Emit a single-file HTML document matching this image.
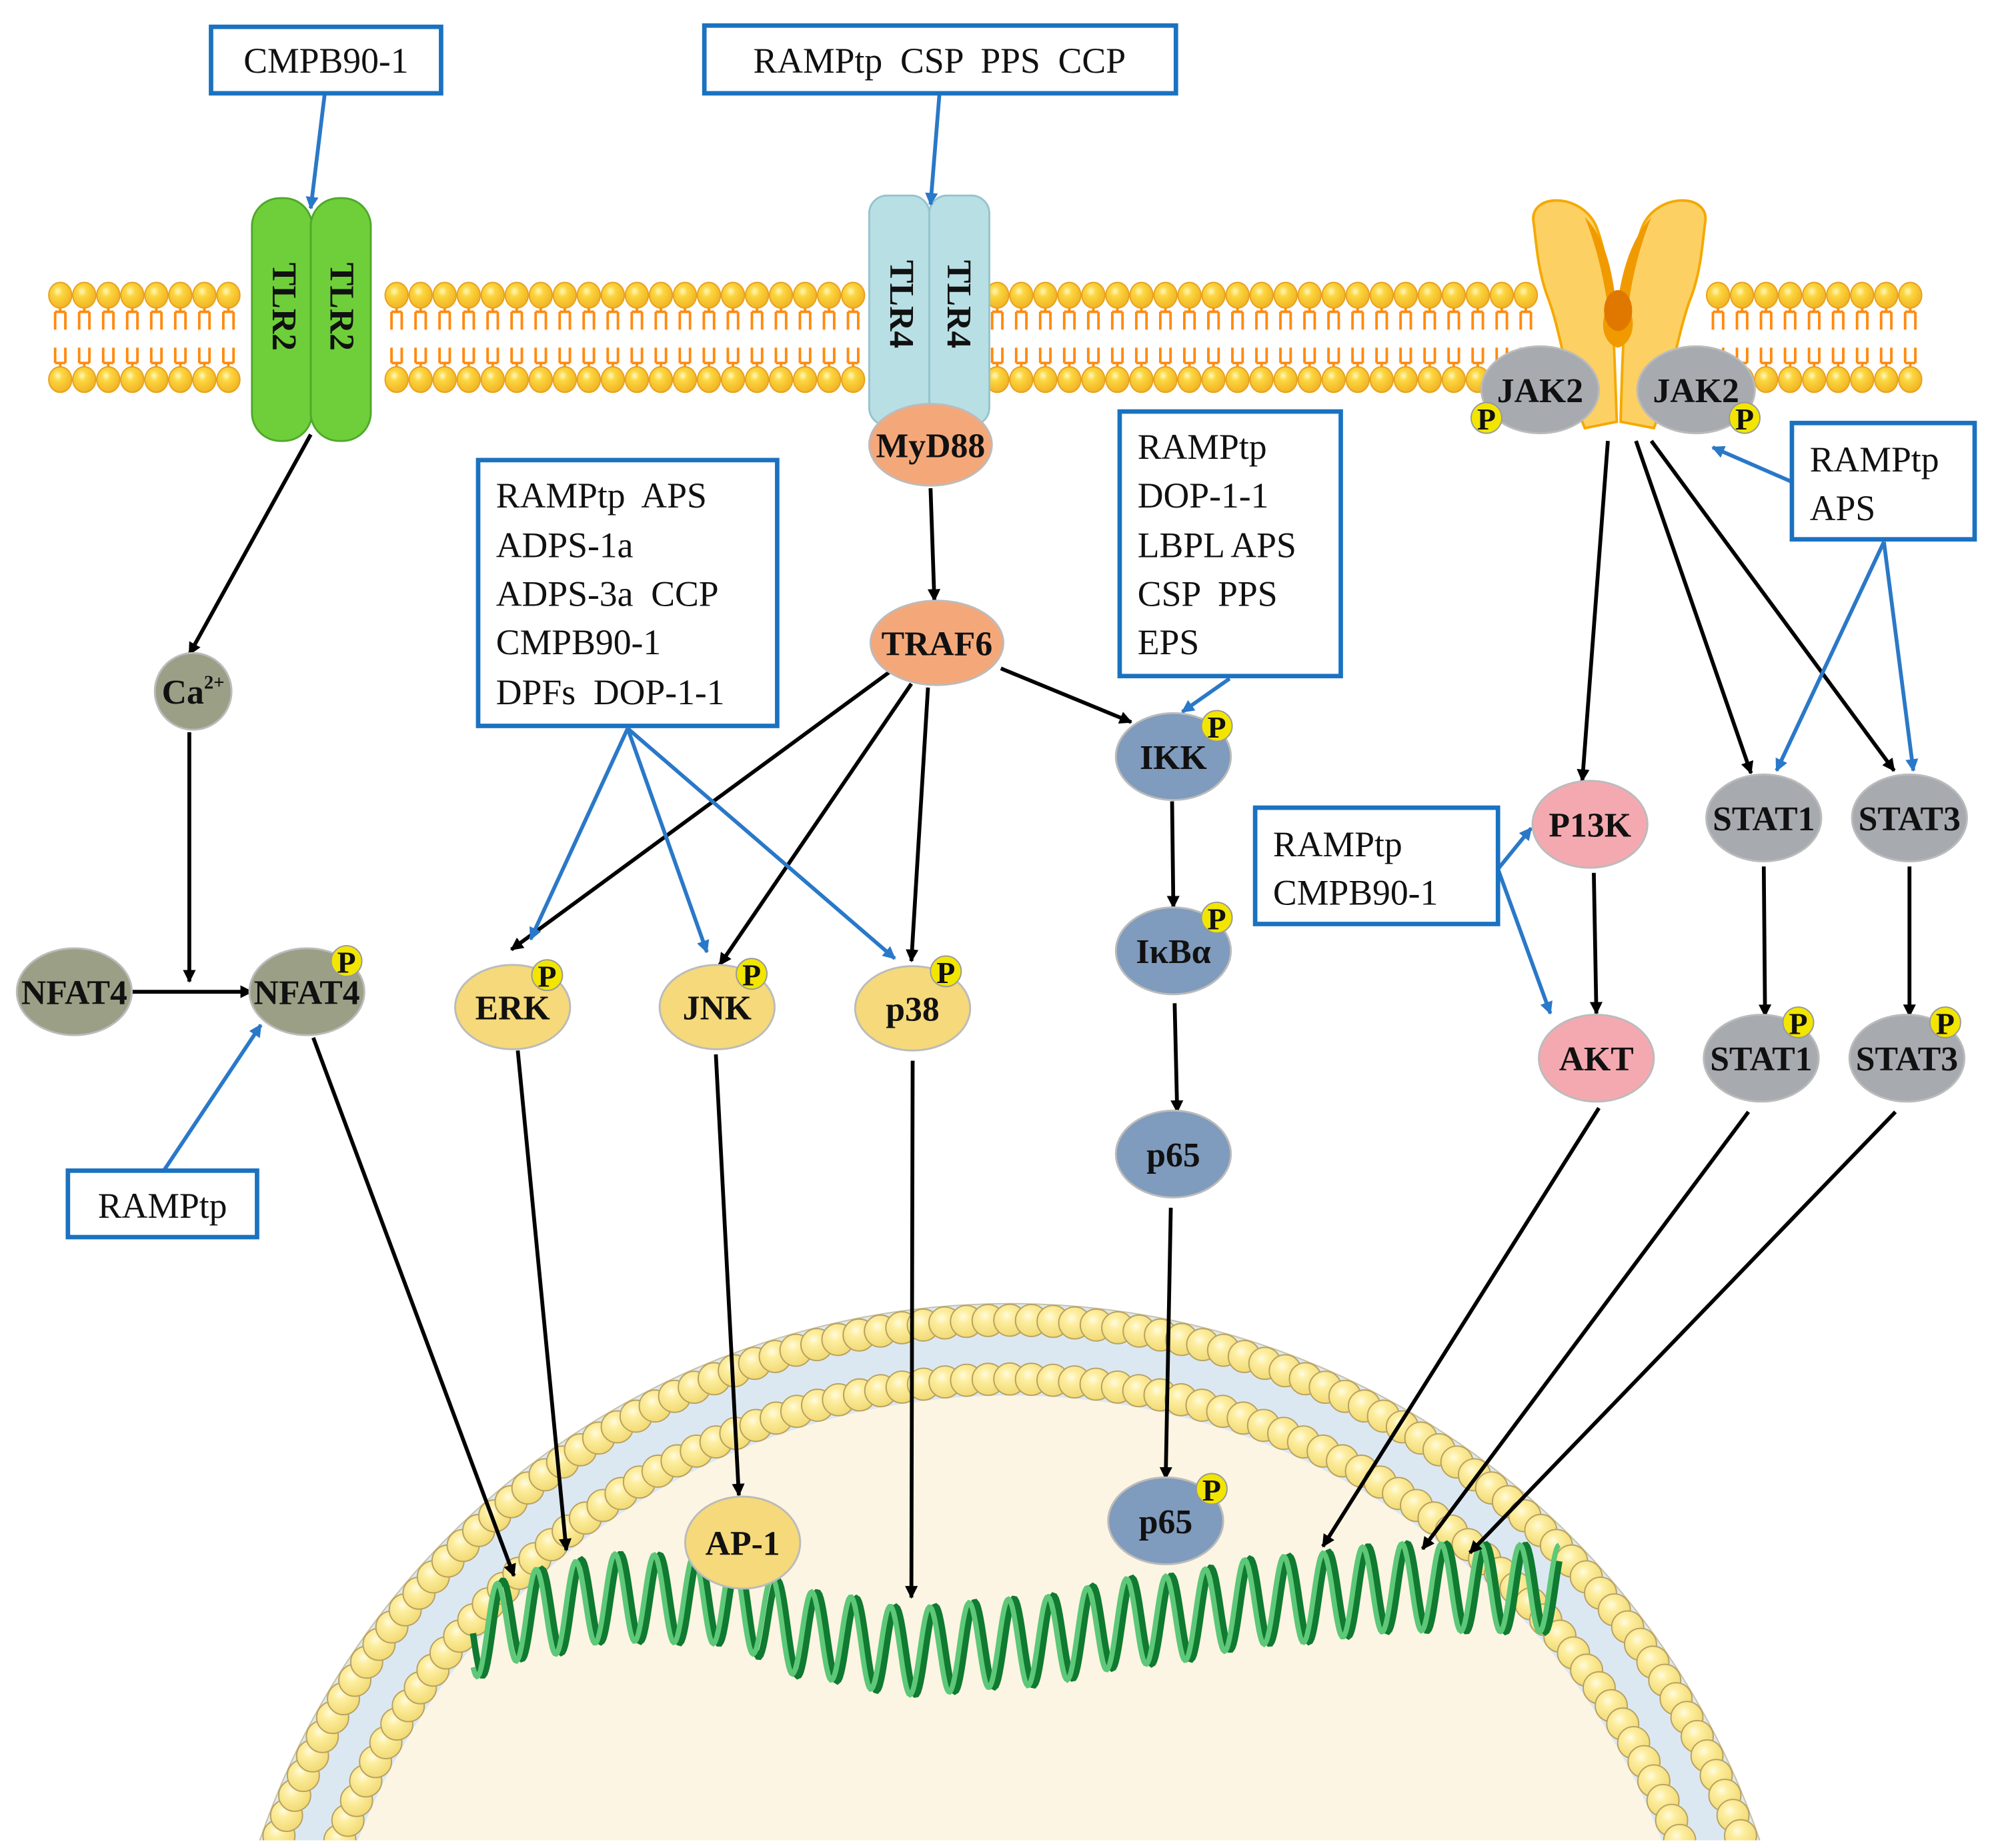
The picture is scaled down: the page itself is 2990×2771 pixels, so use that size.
<!DOCTYPE html>
<html><head><meta charset="utf-8">
<style>
html,body{margin:0;padding:0;background:#fff;overflow:hidden;width:2990px;height:2771px;position:relative;}
svg{display:block;position:absolute;left:0;top:0;}
text{font-family:"Liberation Serif",serif;}
.lbl{font-weight:bold;font-size:27px;text-anchor:middle;dominant-baseline:central;fill:#111;}
.box{fill:#fff;stroke:#1a72c0;stroke-width:3.5;}
.bt{font-size:28px;fill:#111;}
</style></head><body>
<svg id="s" width="2990" height="2771" viewBox="0 0 1560 1446" xmlns="http://www.w3.org/2000/svg">
<defs>
<marker id="ak" markerWidth="10" markerHeight="10" refX="9" refY="5" orient="auto" markerUnits="userSpaceOnUse"><path d="M0,0 L10,5 L0,10 z" fill="#000"/></marker>
<marker id="ab" markerWidth="10" markerHeight="10" refX="9" refY="5" orient="auto" markerUnits="userSpaceOnUse"><path d="M0,0 L10,5 L0,10 z" fill="#2a78c8"/></marker>
<radialGradient id="hy" cx="0.4" cy="0.35" r="0.7"><stop offset="0" stop-color="#fffbe0"/><stop offset="0.3" stop-color="#fdeea0"/><stop offset="1" stop-color="#f0d870"/></radialGradient>
<radialGradient id="ho" cx="0.4" cy="0.35" r="0.7"><stop offset="0" stop-color="#fff8c0"/><stop offset="0.3" stop-color="#fcd640"/><stop offset="1" stop-color="#f0b020"/></radialGradient>
<clipPath id="clipb"><rect x="0" y="0" width="1560" height="1440"/></clipPath>
</defs>
<g id="nuc" clip-path="url(#clipb)">
<circle cx="790" cy="1640" r="620" fill="#dbe8f2" stroke="#c8c0a0" stroke-width="1"/>
<circle cx="790" cy="1640" r="548" fill="#fdf5e3"/>
</g>
<g id="mem"></g>
<g id="dna" clip-path="url(#clipb)"></g>

<g>
<path d="M1200,175 C1195,150 1240,150 1250,180 C1262,215 1262,250 1265,330 L1240,335 C1225,300 1222,260 1210,230 C1203,210 1202,190 1200,175 Z" fill="#fcd063" stroke="#f5a800" stroke-width="2"/>
<path d="M1334,175 C1339,150 1294,150 1284,180 C1272,215 1270,250 1268,330 L1294,335 C1308,300 1312,260 1324,230 C1331,210 1332,190 1334,175 Z" fill="#fcd063" stroke="#f5a800" stroke-width="2"/>
<path d="M1240,170 C1255,185 1262,210 1265,245 C1268,210 1278,185 1292,170 C1280,200 1276,225 1274,240 C1282,255 1275,270 1266,272 C1256,270 1250,255 1258,240 C1255,220 1250,195 1240,170 Z" fill="#f09a00"/>
<ellipse cx="1266" cy="243" rx="11" ry="16" fill="#e07800"/>
</g>

<g>
<rect x="197" y="155" width="47" height="190" rx="22" fill="#6fcf3a" stroke="#4fa82a" stroke-width="1.5"/>
<rect x="243" y="155" width="47" height="190" rx="22" fill="#6fcf3a" stroke="#4fa82a" stroke-width="1.5"/>
<text class="lbl" transform="translate(222,240) rotate(90)">TLR2</text>
<text class="lbl" transform="translate(267,240) rotate(90)">TLR2</text>
<rect x="680" y="153" width="47" height="180" rx="14" fill="#b8dfe4" stroke="#95c4cc" stroke-width="1.5"/>
<rect x="727" y="153" width="47" height="180" rx="14" fill="#b8dfe4" stroke="#95c4cc" stroke-width="1.5"/>
<text class="lbl" transform="translate(705,238) rotate(90)">TLR4</text>
<text class="lbl" transform="translate(750,238) rotate(90)">TLR4</text>
</g>

<g id="arrows" stroke-width="3" fill="none">
<g stroke="#000" marker-end="url(#ak)">
<line x1="243" y1="340" x2="148" y2="512"/>
<line x1="148" y1="573" x2="148" y2="768"/>
<line x1="103" y1="776" x2="197" y2="776"/>
<line x1="245" y1="812" x2="402" y2="1233"/>
<line x1="405" y1="822" x2="443" y2="1213"/>
<line x1="560" y1="825" x2="578" y2="1170"/>
<line x1="714" y1="830" x2="713" y2="1250"/>
<line x1="728" y1="382" x2="731" y2="470"/>
<line x1="697" y1="525" x2="400" y2="743"/>
<line x1="713" y1="535" x2="563" y2="755"/>
<line x1="726" y1="538" x2="713" y2="752"/>
<line x1="783" y1="523" x2="885" y2="565"/>
<line x1="917" y1="627" x2="918" y2="710"/>
<line x1="919" y1="785" x2="921" y2="870"/>
<line x1="916" y1="945" x2="912" y2="1157"/>
<line x1="1258" y1="345" x2="1238" y2="611"/>
<line x1="1280" y1="345" x2="1370" y2="605"/>
<line x1="1292" y1="345" x2="1482" y2="603"/>
<line x1="1247" y1="683" x2="1249" y2="793"/>
<line x1="1380" y1="678" x2="1381" y2="795"/>
<line x1="1494" y1="678" x2="1494" y2="795"/>
<line x1="1251" y1="867" x2="1035" y2="1210"/>
<line x1="1368" y1="870" x2="1113" y2="1212"/>
<line x1="1483" y1="870" x2="1150" y2="1215"/>
</g>
<g stroke="#2a78c8" marker-end="url(#ab)">
<line x1="254" y1="73" x2="243" y2="163"/>
<line x1="735" y1="73" x2="728" y2="160"/>
<line x1="491" y1="570" x2="415" y2="735"/>
<line x1="491" y1="570" x2="553" y2="745"/>
<line x1="491" y1="570" x2="700" y2="750"/>
<line x1="962" y1="531" x2="925" y2="557"/>
<line x1="1402" y1="377" x2="1340" y2="350"/>
<line x1="1474" y1="424" x2="1390" y2="603"/>
<line x1="1474" y1="424" x2="1497" y2="603"/>
<line x1="1172" y1="680" x2="1198" y2="648"/>
<line x1="1172" y1="680" x2="1213" y2="793"/>
<line x1="128" y1="916" x2="204" y2="802"/>
</g>
</g>

<g id="nodes"></g>

<g>
<rect class="box" x="165" y="21" width="180" height="52"/>
<text class="bt" x="255" y="57" text-anchor="middle">CMPB90-1</text>
<rect class="box" x="551" y="20" width="369" height="53"/>
<text class="bt" x="735" y="57" text-anchor="middle" xml:space="preserve">RAMPtp  CSP  PPS  CCP</text>
<rect class="box" x="374" y="360" width="234" height="208"/>
<text class="bt" x="388" y="397" xml:space="preserve">RAMPtp  APS</text>
<text class="bt" x="388" y="436">ADPS-1a</text>
<text class="bt" x="388" y="474" xml:space="preserve">ADPS-3a  CCP</text>
<text class="bt" x="388" y="512">CMPB90-1</text>
<text class="bt" x="388" y="551" xml:space="preserve">DPFs  DOP-1-1</text>
<rect class="box" x="876" y="322" width="173" height="207"/>
<text class="bt" x="890" y="359">RAMPtp</text>
<text class="bt" x="890" y="397">DOP-1-1</text>
<text class="bt" x="890" y="436">LBPL APS</text>
<text class="bt" x="890" y="474" xml:space="preserve">CSP  PPS</text>
<text class="bt" x="890" y="512">EPS</text>
<rect class="box" x="1402" y="331" width="143" height="91"/>
<text class="bt" x="1416" y="369">RAMPtp</text>
<text class="bt" x="1416" y="407">APS</text>
<rect class="box" x="982" y="632" width="190" height="91"/>
<text class="bt" x="996" y="670">RAMPtp</text>
<text class="bt" x="996" y="708">CMPB90-1</text>
<rect class="box" x="53" y="916" width="148" height="52"/>
<text class="bt" x="127" y="953" text-anchor="middle">RAMPtp</text>
</g>
</svg>
<script>
var NS="http://www.w3.org/2000/svg";
function el(p,t,a,txt){var e=document.createElementNS(NS,t);for(var k in a)e.setAttribute(k,a[k]);if(txt!=null)e.textContent=txt;p.appendChild(e);return e;}
var mem=document.getElementById('mem');
var skip=function(x){return (x>190&&x<295)||(x>675&&x<778)||(x>1195&&x<1338);};
for(var x=47;x<=1506;x+=18.8){
  if(skip(x))continue;
  el(mem,'path',{d:'M'+(x-4)+',244 L'+(x-4)+',258 M'+(x+4)+',244 L'+(x+4)+',258 M'+(x-4)+',272 L'+(x-4)+',284 M'+(x+4)+',272 L'+(x+4)+',284 M'+x+',240 L'+x+',244 M'+(x-4)+',244 L'+(x+4)+',244 M'+(x-4)+',284 L'+(x+4)+',284 M'+x+',284 L'+x+',288',stroke:'#ff8a10','stroke-width':2,fill:'none'});
  el(mem,'ellipse',{cx:x,cy:231,rx:9,ry:10,fill:'url(#ho)',stroke:'#e8a020','stroke-width':1});
  el(mem,'ellipse',{cx:x,cy:297,rx:9,ry:10,fill:'url(#ho)',stroke:'#e8a020','stroke-width':1});
}
var nuc=document.getElementById('nuc');
function ring(r,n){for(var i=0;i<=n;i++){var a=Math.PI*(1.02+(0.96*i/n));var hx=790+r*Math.cos(a),hy=1640+r*Math.sin(a);if(hy>1450)continue;el(nuc,'circle',{cx:hx,cy:hy,r:12.5,fill:'url(#hy)',stroke:'#b8a060','stroke-width':1});}}
ring(607,108);ring(561,100);
var dna=document.getElementById('dna');
var pts=[[370,1278],[420,1262],[480,1250],[560,1252],[640,1280],[710,1292],[800,1285],[900,1268],[1000,1252],[1100,1242],[1220,1243]];
function cyf(x){for(var i=0;i<pts.length-1;i++){if(x<=pts[i+1][0]){var t=(x-pts[i][0])/(pts[i+1][0]-pts[i][0]);t=(1-Math.cos(t*Math.PI))/2;return pts[i][1]+t*(pts[i+1][1]-pts[i][1]);}}return pts[pts.length-1][1];}
function strand(ph,col,w){var d='';for(var x=370;x<=1220;x+=1){var y=cyf(x)+34*Math.sin((x-370)/4.9+ph);d+=(x==370?'M':'L')+x+','+y.toFixed(1)+' ';}el(dna,'path',{d:d,stroke:col,'stroke-width':w,fill:'none'});}
strand(0,'#0f7a30',5);strand(0.9,'#5cc878',4);
var nodes=document.getElementById('nodes');
function node(x,y,rx,ry,fill,t,px,py){el(nodes,'ellipse',{cx:x,cy:y,rx:rx,ry:ry,fill:fill,stroke:'#bbb','stroke-width':1.5});var tx=el(nodes,'text',{x:x,y:y+1,'class':'lbl'},t);if(px!=null){el(nodes,'circle',{cx:px,cy:py,r:12,fill:'#f2e600',stroke:'#999','stroke-width':1});el(nodes,'text',{x:px,y:py+1,'class':'lbl',style:'font-size:24px'},'P');}return tx;}
node(728,348,48,32,'#f4a87a','MyD88');
node(733,503,52,33,'#f4a87a','TRAF6');
var ca=node(151,541,30,30,'#9a9f86','Ca');
el(ca,'tspan',{dy:'-8','font-size':'15'},'2+');
node(58,776,45,34,'#9a9f86','NFAT4');
node(240,776,45,34,'#9a9f86','NFAT4',271,752);
node(401,788,45,33,'#f5d97a','ERK',428,763);
node(561,788,45,33,'#f5d97a','JNK',588,762);
node(714,789,45,33,'#f5d97a','p38',740,760);
node(918,592,45,34,'#7f9bbd','IKK',952,568);
node(918,744,45,34,'#7f9bbd','IκBα',952,718);
node(918,903,45,34,'#7f9bbd','p65');
node(912,1190,45,34,'#7f9bbd','p65',948,1165);
node(1205,305,46,34,'#a7abb0','JAK2',1163,327);
node(1327,305,46,34,'#a7abb0','JAK2',1365,327);
node(1244,645,45,34,'#f4a9b0','P13K');
node(1249,828,45,34,'#f4a9b0','AKT');
node(1380,640,45,34,'#a7abb0','STAT1');
node(1494,640,45,34,'#a7abb0','STAT3');
node(1378,828,45,34,'#a7abb0','STAT1',1407,800);
node(1492,828,45,34,'#a7abb0','STAT3',1522,800);
node(581,1207,45,36,'#f5d97a','AP-1');
</script>
</body></html>
